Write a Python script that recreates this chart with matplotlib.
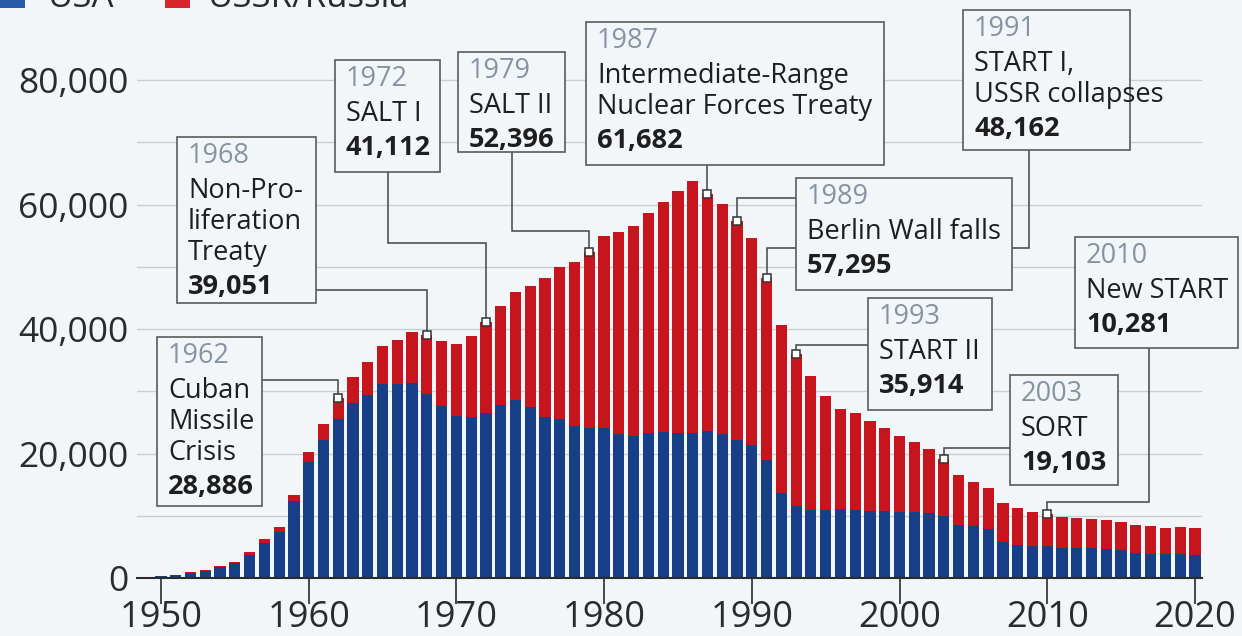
import matplotlib
matplotlib.use("Agg")
import matplotlib.pyplot as plt
from matplotlib.patches import Rectangle
from matplotlib.ticker import FuncFormatter, MultipleLocator

plt.rcParams['font.family'] = ['Open Sans', 'DejaVu Sans']

# nuclear warhead stockpiles, 1950-2020
years = list(range(1950, 2021))
usa = [299, 438, 841, 1169, 1703, 2422, 3692, 5543, 7345, 12298,
       18638, 22229, 25540, 28133, 29463, 31139, 31175, 31255, 29561, 27552,
       26008, 25830, 26516, 27835, 28537, 27519, 25914, 25542, 24418, 24138,
       24104, 23208, 22886, 23305, 23459, 23368, 23317, 23575, 23205, 22217,
       21392, 19008, 13708, 11511, 10979, 10904, 11011, 10903, 10732, 10685,
       10577, 10526, 10457, 10027, 8570, 8360, 7853, 5709, 5273, 5113,
       5066, 4897, 4881, 4804, 4717, 4571, 4018, 3822, 3785, 3805,
       3750]
ussr = [5, 25, 50, 120, 150, 200, 426, 660, 869, 1060,
        1605, 2471, 3346, 4238, 5221, 6129, 7089, 8339, 9490, 10538,
        11643, 13092, 14596, 15915, 17385, 19443, 22300, 24500, 26300, 28258,
        30800, 32300, 33700, 35400, 37000, 38800, 40500, 38107, 36800, 35078,
        33200, 29154, 26900, 24403, 21500, 18400, 16100, 15600, 14500, 13400,
        12200, 11400, 10300, 9076, 8000, 7000, 6600, 6300, 5900, 5500,
        5215, 4900, 4800, 4600, 4600, 4450, 4500, 4480, 4230, 4350,
        4250]

# treaties / events
event_years = [1962, 1968, 1972, 1979, 1987, 1989, 1991, 1993, 2003, 2010]
event_titles = [["Cuban", "Missile", "Crisis"],
                ["Non-Pro-", "liferation", "Treaty"],
                ["SALT I"],
                ["SALT II"],
                ["Intermediate-Range", "Nuclear Forces Treaty"],
                ["Berlin Wall falls"],
                ["START I,", "USSR collapses"],
                ["START II"],
                ["SORT"],
                ["New START"]]
event_totals = [28886, 39051, 41112, 52396, 61682, 57295, 48162, 35914, 19103, 10281]

# box extents (x0, x1, y0, y1) and connector waypoints, data units
box_layout = {
    1962: ((1949.73, 1956.84, 11570, 38710), [(1956.84, 31800), (1962, 31800)]),
    1968: ((1951.08, 1960.49, 44180, 70840), [(1960.49, 46270), (1968, 46270)]),
    1972: ((1961.78, 1968.89, 65200, 83200), [(1965.37, 65200), (1965.37, 53800), (1972, 53800)]),
    1979: ((1970.11, 1977.35, 68400, 84500), [(1973.76, 68400), (1973.76, 55700), (1979, 55700)]),
    1987: ((1978.77, 1998.95, 66300, 89300), [(1987, 66300)]),
    1989: ((1992.99, 2007.62, 46270, 64260), [(1992.99, 61000), (1989, 61000)]),
    1991: ((2004.30, 2015.60, 68800, 91200), [(2008.77, 68800), (2008.77, 53000), (1991, 53000)]),
    1993: ((1997.87, 2006.26, 27000, 45000), [(1997.87, 37400), (1993, 37400)]),
    2003: ((2007.48, 2014.80, 14900, 32600), [(2007.48, 20900), (2003, 20900)]),
    2010: ((2011.88, 2022.92, 36900, 54800), [(2016.9, 36900), (2016.9, 12200), (2010, 12200)]),
}

BG = '#f3f6f9'
BLUE = '#173f88'
RED = '#c8141c'
DARK = '#2b2b2b'
FS = 19.5

fig = plt.figure(figsize=(12.42, 6.36), dpi=100, facecolor=BG)
ax = fig.add_axes([137 / 1242, 1 - 578 / 636, (1202 - 137) / 1242, (578 - 48.9) / 636])
ax.set_facecolor(BG)

ax.bar(years, usa, width=0.76, color=BLUE, zorder=2)
ax.bar(years, ussr, width=0.76, bottom=usa, color=RED, zorder=2)

ax.set_xlim(1948.375, 2020.48)
ax.set_ylim(0, 85000)

ax.yaxis.set_major_locator(MultipleLocator(20000))
ax.yaxis.set_minor_locator(MultipleLocator(10000))
ax.yaxis.set_major_formatter(FuncFormatter(lambda v, p: f"{int(v):,}"))
ax.grid(axis='y', which='both', color='#c9ced3', linewidth=1, zorder=0)
ax.tick_params(axis='y', which='both', length=0, pad=6, labelsize=25.5, labelcolor=DARK)
ax.set_xticks([1950, 1960, 1970, 1980, 1990, 2000, 2010, 2020])
ax.tick_params(axis='x', length=19, width=1.2, color=DARK, pad=-3, labelsize=26, labelcolor=DARK)
for s in ['top', 'right', 'left']:
    ax.spines[s].set_visible(False)
ax.spines['bottom'].set_color(DARK)
ax.spines['bottom'].set_linewidth(1.5)
ax.spines['bottom'].set_zorder(3)

# annotation boxes with connectors
for yr, title, total in zip(event_years, event_titles, event_totals):
    (x0, x1, y0, y1), route = box_layout[yr]
    xs = [p[0] for p in route] + [yr]
    ys = [p[1] for p in route] + [total]
    ax.plot(xs, ys, color='#444444', linewidth=1.1, zorder=4, clip_on=False,
            solid_joinstyle='miter')
    ax.plot([yr], [total], marker='s', markersize=5.5, markerfacecolor='white',
            markeredgecolor='#333333', markeredgewidth=1.1, zorder=7, clip_on=False)
    ax.add_patch(Rectangle((x0, y0), x1 - x0, y1 - y0, facecolor=BG,
                           edgecolor='#5a5a5a', linewidth=1.2, zorder=5, clip_on=False))
    off = -19
    ax.annotate(str(yr), xy=(x0, y1), xytext=(11, off), textcoords='offset pixels',
                va='center', ha='left', fontsize=FS, color='#8793a0', zorder=6,
                annotation_clip=False)
    off -= 35
    for line in title:
        ax.annotate(line, xy=(x0, y1), xytext=(11, off), textcoords='offset pixels',
                    va='center', ha='left', fontsize=FS, color='#1e1e1e', zorder=6,
                    annotation_clip=False)
        off -= 31
    off -= 3
    ax.annotate(f"{total:,}", xy=(x0, y1), xytext=(11, off), textcoords='offset pixels',
                va='center', ha='left', fontsize=FS, fontweight='bold', color='#1e1e1e',
                zorder=6, annotation_clip=False)

# legend, cut by the top edge as in the source image
fig.patches.append(Rectangle((0, 1 - 8 / 636), 25 / 1242, 20 / 636, transform=fig.transFigure,
                             facecolor='#2a5ba8', edgecolor='none'))
fig.patches.append(Rectangle((165 / 1242, 1 - 8 / 636), 25 / 1242, 20 / 636, transform=fig.transFigure,
                             facecolor='#d8262c', edgecolor='none'))
fig.text(48 / 1242, 1 - 7 / 636, "USA", fontsize=25, color=DARK, va='baseline', ha='left')
fig.text(208 / 1242, 1 - 7 / 636, "USSR/Russia", fontsize=25, color=DARK, va='baseline', ha='left')

fig.savefig("out.png", dpi=100, facecolor=BG)
